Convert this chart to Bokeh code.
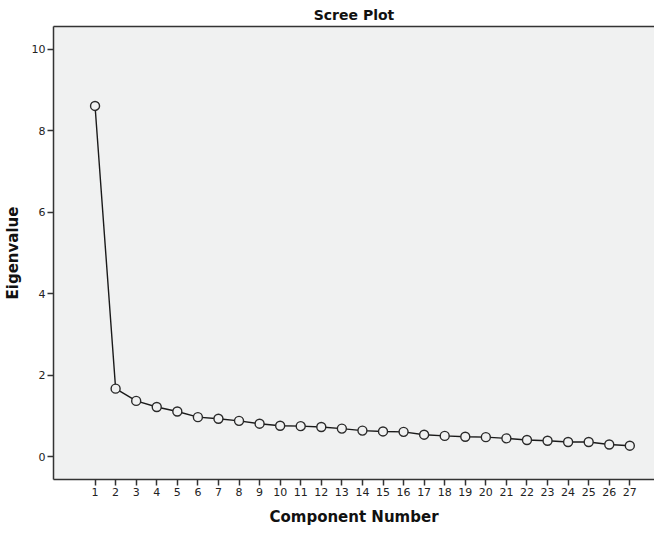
from bokeh.plotting import figure
from bokeh.models import LinearAxis, FixedTicker, Range1d
from bokeh.embed import file_html
from bokeh.resources import INLINE

components = list(range(1, 28))
eigenvalues = [8.61, 1.67, 1.37, 1.22, 1.11, 0.97, 0.93, 0.88, 0.81, 0.76,
               0.75, 0.73, 0.69, 0.64, 0.62, 0.61, 0.54, 0.51, 0.49, 0.48,
               0.45, 0.41, 0.39, 0.36, 0.36, 0.30, 0.27]
y_ticks = [0, 2, 4, 6, 8, 10]

FONT = "DejaVu Sans"

p = figure(width=654, height=528, output_backend="svg", toolbar_location=None,
           x_range=Range1d(-1.02, 28.2), y_range=Range1d(-0.56, 10.56),
           title="Scree Plot", x_axis_label="Component Number",
           y_axis_label="Eigenvalue")
p.min_border_left = 0
p.min_border_right = 0
p.min_border_top = 0
p.min_border_bottom = 0

p.background_fill_color = "#f0f1f1"
p.border_fill_color = "white"
p.outline_line_color = None
p.grid.visible = False

p.title.align = "center"
p.title.text_font = FONT
p.title.text_font_size = "14px"
p.title.text_font_style = "bold"
p.title.text_color = "#111111"
p.title.offset = 0
p.title.standoff = 8

for ax in (p.xaxis[0], p.yaxis[0]):
    ax.axis_line_color = "#333333"
    ax.axis_line_width = 1.5
    ax.major_tick_line_color = "#333333"
    ax.major_tick_line_width = 1.5
    ax.major_tick_out = 6
    ax.major_tick_in = 0
    ax.minor_tick_out = 0
    ax.minor_tick_in = 0
    ax.major_label_text_font = FONT
    ax.major_label_text_font_size = "11px"
    ax.major_label_text_color = "#222222"
    ax.axis_label_text_font = FONT
    ax.axis_label_text_font_size = "15px"
    ax.axis_label_text_font_style = "bold"
    ax.axis_label_text_color = "#111111"

p.xaxis[0].ticker = FixedTicker(ticks=components)
p.yaxis[0].ticker = FixedTicker(ticks=y_ticks)
p.xaxis[0].major_label_standoff = 2
p.yaxis[0].major_label_standoff = 2
p.xaxis[0].axis_label_standoff = 9
p.yaxis[0].axis_label_standoff = 7

top = LinearAxis(ticker=FixedTicker(ticks=[]), axis_line_color="#333333",
                 axis_line_width=1.5, major_tick_out=0, major_tick_in=0,
                 minor_tick_out=0, minor_tick_in=0,
                 major_label_text_font_size="0px")
p.add_layout(top, "above")

p.line(components, eigenvalues, line_color="#1a1a1a", line_width=1.4)
p.scatter(components, eigenvalues, marker="circle", size=9,
          fill_color="#f0f1f1", line_color="#2a2a2a", line_width=1.4)

open("out.html", "w").write(file_html(p, INLINE))
